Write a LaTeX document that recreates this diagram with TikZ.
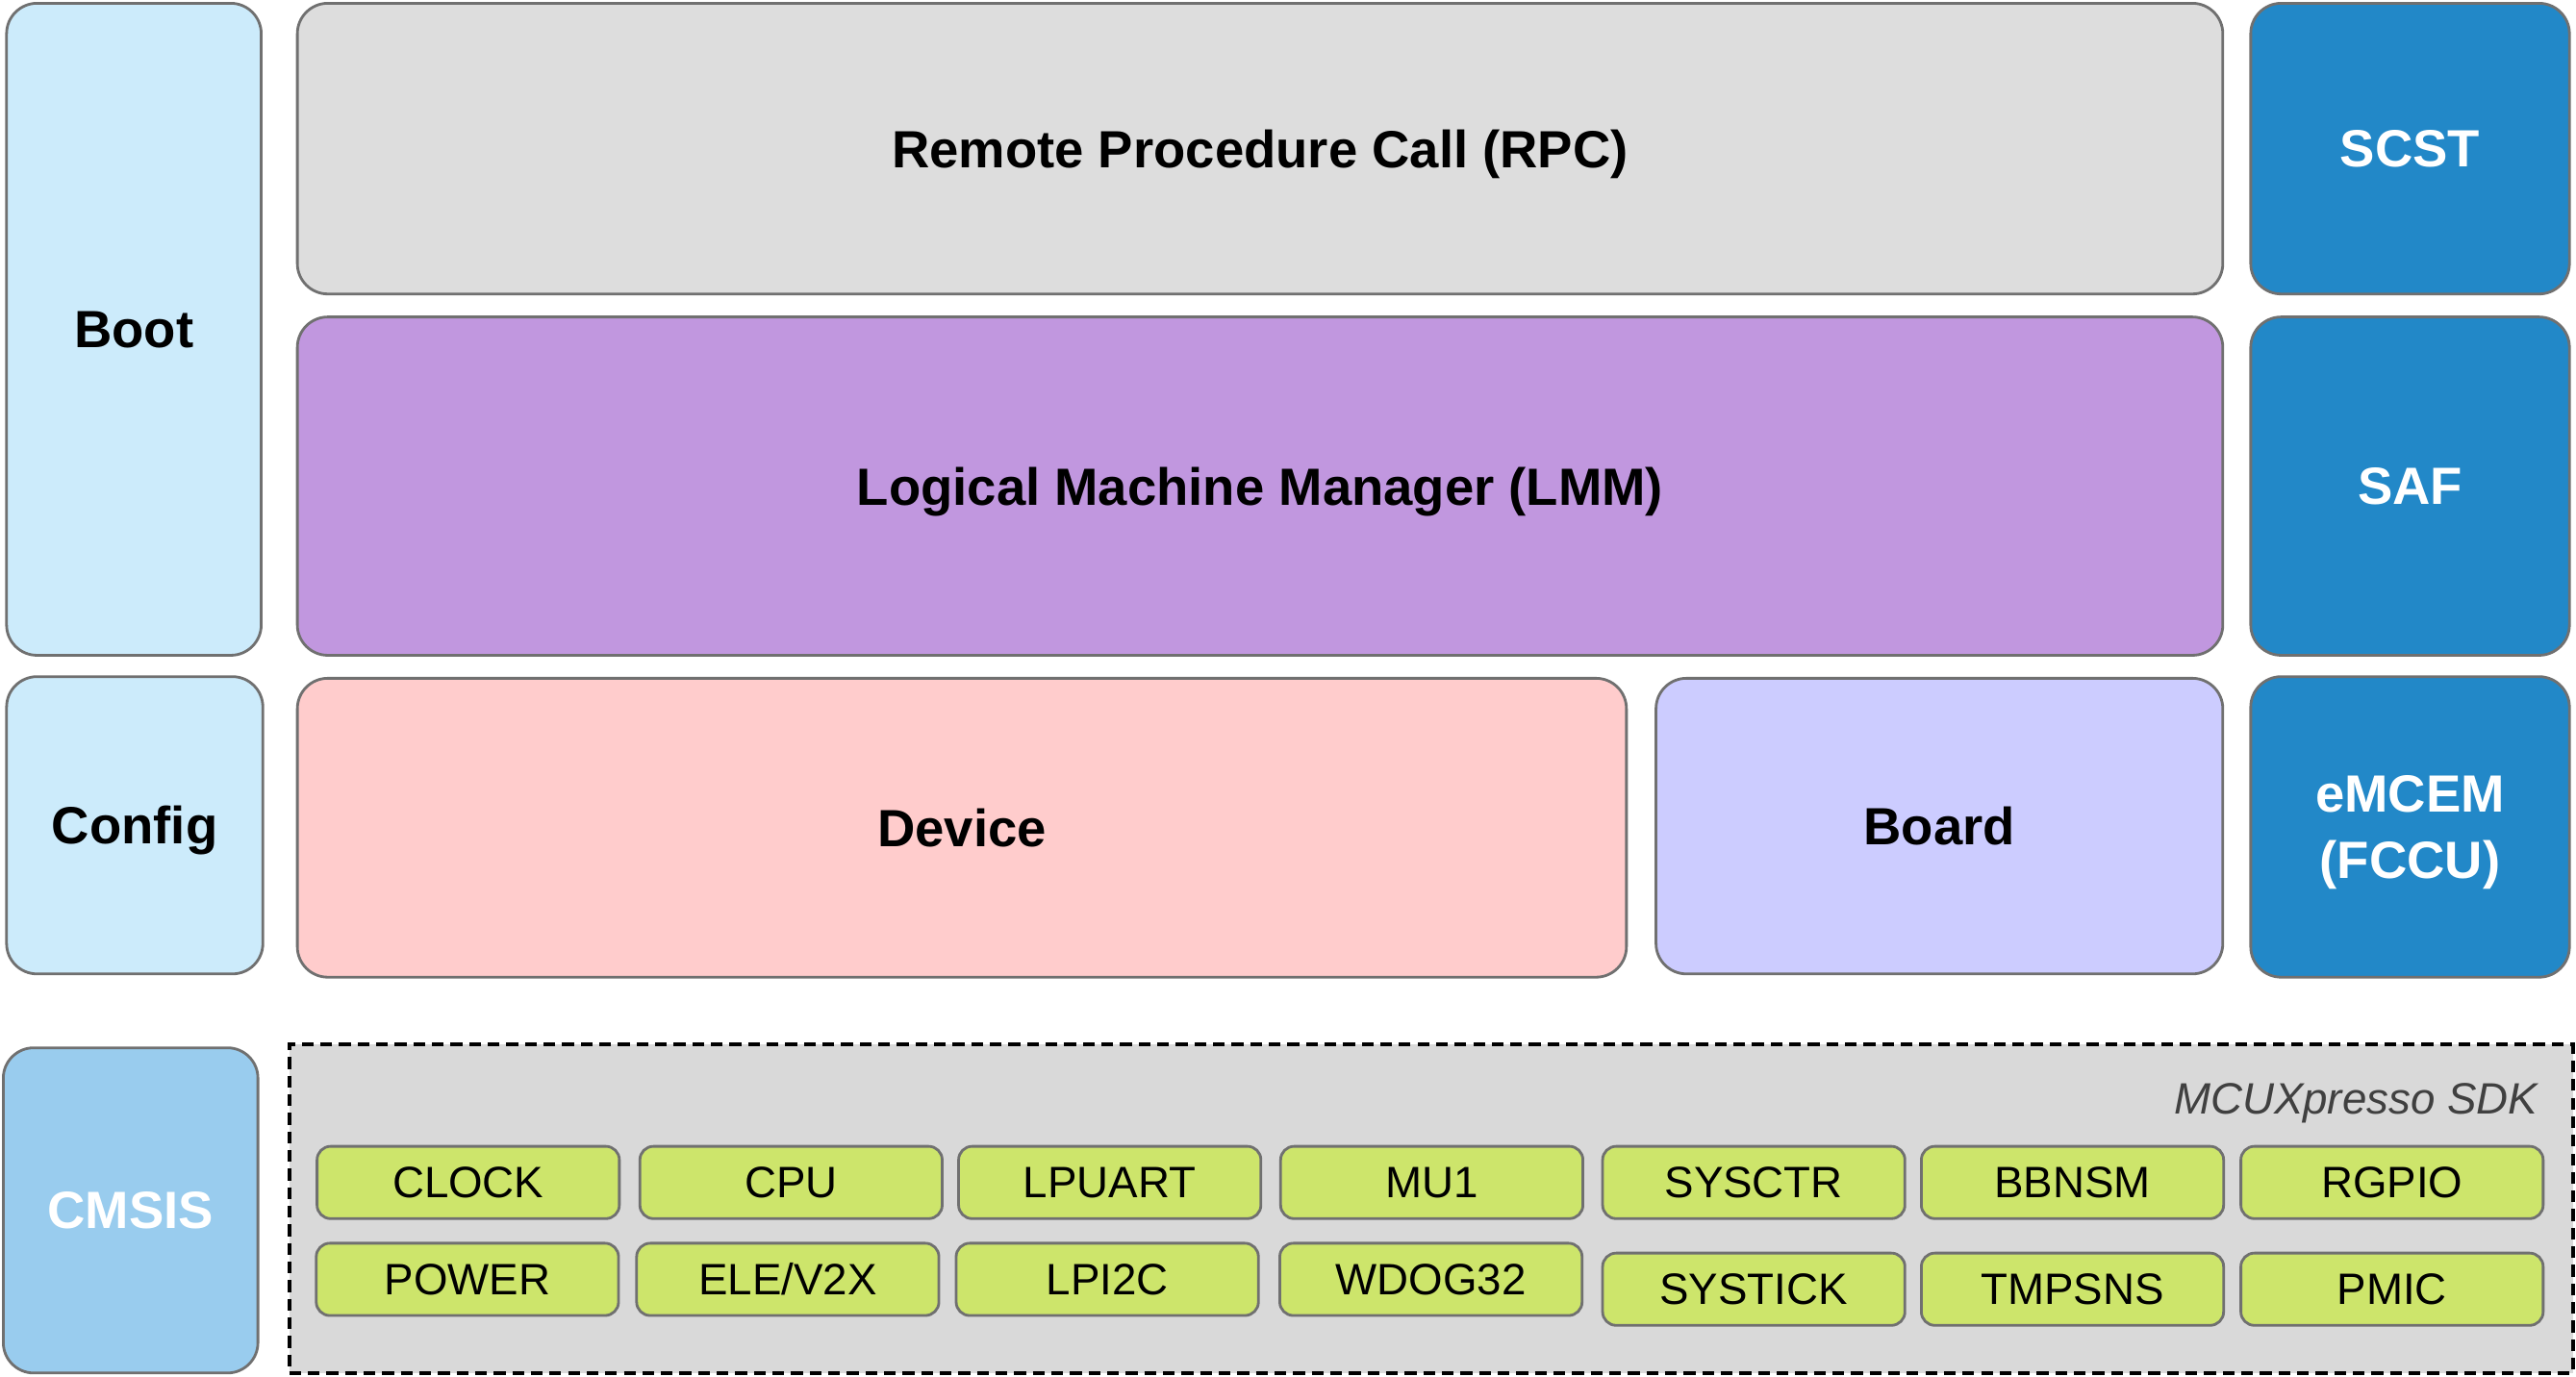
\documentclass[tikz,border=0pt]{standalone}
\usepackage{fontspec}
\setmainfont{Liberation Sans}
\usetikzlibrary{positioning}

\definecolor{bootblue}{HTML}{CCEBFB}
\definecolor{rpcgray}{HTML}{DDDDDD}
\definecolor{lmmpurple}{HTML}{C197DF}
\definecolor{devpink}{HTML}{FFCCCC}
\definecolor{boardlav}{HTML}{CCCCFF}
\definecolor{safblue}{HTML}{2288C8}
\definecolor{cmsisblue}{HTML}{99CCEE}
\definecolor{sdkgray}{HTML}{D9D9D9}
\definecolor{drvgreen}{HTML}{CDE56B}
\definecolor{edgegray}{HTML}{707070}

\begin{document}
\begin{tikzpicture}[x=0.1708mm, y=-0.1708mm,
    blk/.style 2 args={draw=edgegray, line width=0.8pt, rounded corners=9pt,
      minimum width=#1*0.1708mm, minimum height=#2*0.1708mm, inner sep=0pt,
      text depth=0pt, align=center, font=\fontsize{15.5}{19.5}\selectfont\bfseries},
    dark/.style={text=white},
    drv/.style={draw=edgegray, line width=0.8pt, fill=drvgreen, rounded corners=4pt,
      minimum width=184*0.1708mm, minimum height=44*0.1708mm, inner sep=0pt,
      font=\fontsize{13}{15}\selectfont}]
    \useasboundingbox (0,0) rectangle (1568,838);

    % upper stack
    \node[blk={155}{397}, fill=bootblue] (boot) at (81.5,200.5) {Boot};
    \node[blk={1172}{177}, fill=rpcgray] (rpc) at (767,90.5) {Remote Procedure Call (RPC)};
    \node[blk={194}{177}, fill=safblue, dark] (scst) at (1467,90.5) {SCST};
    \node[blk={1172}{206}, fill=lmmpurple] (lmm) at (767,296) {Logical Machine Manager (LMM)};
    \node[blk={194}{206}, fill=safblue, dark] (saf) at (1467,296) {SAF};
    \node[blk={156}{181}, fill=bootblue] (config) at (82,502.5) {Config};
    \node[blk={809}{182}, fill=devpink] (device) at (585.5,504) {Device};
    \node[blk={345}{180}, fill=boardlav] (board) at (1180.5,503) {Board};
    \node[blk={194}{183}, fill=safblue, dark] (emcem) at (1467,503.5) {eMCEM\\(FCCU)};

    % SDK layer
    \node[blk={155}{198}, fill=cmsisblue, dark] (cmsis) at (79.5,737) {CMSIS};
    \node[draw=black, fill=sdkgray, line width=1.1pt, dash pattern=on 3.5pt off 2pt,
      minimum width=1390*0.1708mm, minimum height=200*0.1708mm] (sdk) at (871,736) {};
    \node[anchor=east, text=black!75, text depth=0pt, font=\fontsize{13}{15}\selectfont\itshape]
      (sdklabel) at (1552,669) {MCUXpresso SDK};

    \node[drv] (clock) at (285,720) {CLOCK};
    \node[drv] (cpu) at (481.5,720) {CPU};
    \node[drv] (lpuart) at (675.5,720) {LPUART};
    \node[drv] (mu1) at (871.5,720) {MU1};
    \node[drv] (sysctr) at (1067.5,720) {SYSCTR};
    \node[drv] (bbnsm) at (1261.5,720) {BBNSM};
    \node[drv] (rgpio) at (1456,720) {RGPIO};

    \node[drv] (power) at (284.5,779) {POWER};
    \node[drv] (ele) at (479.5,779) {ELE/V2X};
    \node[drv] (lpi2c) at (674,779) {LPI2C};
    \node[drv] (wdog) at (871,779) {WDOG32};
    \node[drv] (systick) at (1067.5,785) {SYSTICK};
    \node[drv] (tmpsns) at (1261.5,785) {TMPSNS};
    \node[drv] (pmic) at (1456,785) {PMIC};
\end{tikzpicture}
\end{document}
